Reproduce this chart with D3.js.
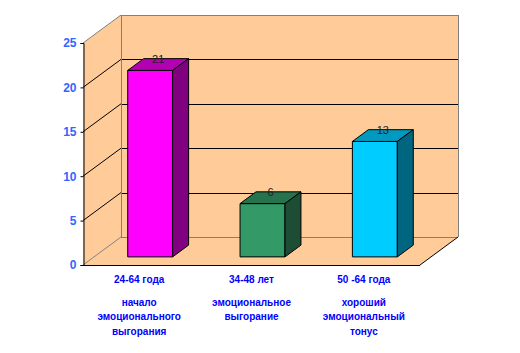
<!DOCTYPE html>
<html>
<head>
<meta charset="utf-8">
<script src="https://cdn.jsdelivr.net/npm/d3@7"></script>
<style>
  body { margin: 0; background: #fff; }
  svg { display: block; font-family: Arial, "Liberation Sans", sans-serif; }
</style>
</head>
<body>
<div class="canvas"></div>
<script>
// data
const ages = ["24-64 года", "34-48 лет", "50 -64 года"]
const captions = [
    ["начало", "эмоционального", "выгорания"],
    ["эмоциональное", "выгорание"],
    ["хороший", "эмоциональный", "тонус"]
]
const values = [21, 6, 13]
const yTicks = [0, 5, 10, 15, 20, 25]

// colours per bar: front, top, side
const colors = [
    {front: "#ff00ff", top: "#b300b3", side: "#800080"},
    {front: "#339966", top: "#26734d", side: "#1d4d35"},
    {front: "#00ccff", top: "#0099bf", side: "#006680"}
]

/**
 * Dimensions
 */
const width = 520, height = 353
const front = {left: 83, right: 420, top: 43, bottom: 265}
const depth = {dx: 38, dy: -28}   // offset of the back wall
const barDepth = [0.29, 0.71]      // bar front/back as fraction of depth

const svg = d3.select(".canvas")
    .append("svg")
    .attr("width", width)
    .attr("height", height)

const x = d3.scaleBand()
    .domain(ages)
    .range([front.left, front.right])
    .paddingInner(0.6)
    .paddingOuter(0.3)
const y = d3.scaleLinear().domain([0, 25]).range([front.bottom, front.top])

// project a point (front coords) into depth fraction t
const px = (xv, t) => xv + depth.dx * t
const py = (yv, t) => yv + depth.dy * t
const pts = arr => arr.map(p => p.join(",")).join(" ")

const yMax = y(25), y0 = y(0)
const bx0 = front.left + depth.dx, bx1 = front.right + depth.dx

// walls
const walls = svg.append("g")
walls.append("polygon")   // back wall
    .attr("points", pts([[bx0, py(yMax, 1)], [bx1, py(yMax, 1)], [bx1, py(y0, 1)], [bx0, py(y0, 1)]]))
    .attr("fill", "#ffcc99")
walls.append("polygon")   // side wall
    .attr("points", pts([[front.left, yMax], [bx0, py(yMax, 1)], [bx0, py(y0, 1)], [front.left, y0]]))
    .attr("fill", "#ffcc99")
walls.append("polygon")   // floor
    .attr("points", pts([[front.left, y0], [front.right, y0], [bx1, py(y0, 1)], [bx0, py(y0, 1)]]))
    .attr("fill", "#ffcc99")

// gridlines
const grid = svg.append("g")
yTicks.forEach(t => {
    const edge = (t === 0 || t === 25)
    const c = edge ? "#808080" : "#000"
    grid.append("line")
        .attr("x1", bx0).attr("x2", bx1)
        .attr("y1", Math.round(py(y(t), 1)) + 0.5).attr("y2", Math.round(py(y(t), 1)) + 0.5)
        .attr("stroke", c)
    grid.append("line")
        .attr("x1", front.left).attr("y1", y(t))
        .attr("x2", bx0).attr("y2", py(y(t), 1))
        .attr("stroke", c)
})
grid.append("line")
    .attr("x1", bx0 + 0.5).attr("x2", bx0 + 0.5)
    .attr("y1", py(yMax, 1)).attr("y2", py(y0, 1))
    .attr("stroke", "#808080")
grid.append("line")
    .attr("x1", bx1 + 0.5).attr("x2", bx1 + 0.5)
    .attr("y1", py(yMax, 1)).attr("y2", py(y0, 1))
    .attr("stroke", "#808080")

// floor front and right edges
grid.append("line")
    .attr("x1", front.left).attr("x2", front.right)
    .attr("y1", y0 + 0.5).attr("y2", y0 + 0.5)
    .attr("stroke", "#000")
grid.append("line")
    .attr("x1", front.right).attr("y1", y0)
    .attr("x2", bx1).attr("y2", py(y0, 1))
    .attr("stroke", "#000")

/**
 * Bars
 */
const bars = svg.append("g")
    .selectAll("g")
    .data(values)
    .enter()
    .append("g")

const t0 = barDepth[0], t1 = barDepth[1]
const bw = x.bandwidth()

bars.each(function(d, i) {
    const g = d3.select(this)
    const xl = x(ages[i]), xr = xl + bw
    const yt = y(d)
    // front
    g.append("polygon")
        .attr("points", pts([[px(xl, t0), py(yt, t0)], [px(xr, t0), py(yt, t0)], [px(xr, t0), py(y0, t0)], [px(xl, t0), py(y0, t0)]]))
        .attr("fill", colors[i].front)
        .attr("stroke", "#000")
    // top
    g.append("polygon")
        .attr("points", pts([[px(xl, t0), py(yt, t0)], [px(xr, t0), py(yt, t0)], [px(xr, t1), py(yt, t1)], [px(xl, t1), py(yt, t1)]]))
        .attr("fill", colors[i].top)
        .attr("stroke", "#000")
    // side
    g.append("polygon")
        .attr("points", pts([[px(xr, t0), py(yt, t0)], [px(xr, t1), py(yt, t1)], [px(xr, t1), py(y0, t1)], [px(xr, t0), py(y0, t0)]]))
        .attr("fill", colors[i].side)
        .attr("stroke", "#000")
    // value label
    g.append("text")
        .attr("x", px(xl + bw / 2, (t0 + t1) / 2))
        .attr("y", py(yt, (t0 + t1) / 2) - 2)
        .attr("text-anchor", "middle")
        .attr("font-size", 11)
        .attr("fill", "#222")
        .text(d)
})

/**
 * Y axis
 */
const yAxis = d3.axisLeft(y)
    .tickValues(yTicks)
    .tickSize(3)
    .tickPadding(4)
const yAxisGroup = svg.append("g")
    .attr("transform", `translate(${front.left + 0.5},0)`)
    .call(yAxis)
yAxisGroup.select(".domain").attr("stroke", "#000")
yAxisGroup.selectAll("line").attr("stroke", "#000")
yAxisGroup.selectAll("text")
    .attr("fill", "#3366ff")
    .attr("font-size", 12)
    .attr("font-weight", "bold")
    .attr("font-family", "Arial, 'Liberation Sans', sans-serif")

/**
 * Category labels
 */
const cats = svg.append("g")
    .selectAll("text")
    .data(ages)
    .enter()
    .append("text")
    .attr("text-anchor", "middle")
    .attr("font-size", 10)
    .attr("font-weight", "bold")
    .attr("fill", "#0000ff")
    .attr("x", d => x(d) + bw / 2)
    .attr("y", 283)

cats.append("tspan")
    .attr("x", d => x(d) + bw / 2)
    .text(d => d)

cats.each(function(d, i) {
    captions[i].forEach((line, j) => {
        d3.select(this).append("tspan")
            .attr("x", x(d) + bw / 2)
            .attr("dy", j === 0 ? 22.5 : 14.5)
            .text(line)
    })
})
</script>
</body>
</html>
